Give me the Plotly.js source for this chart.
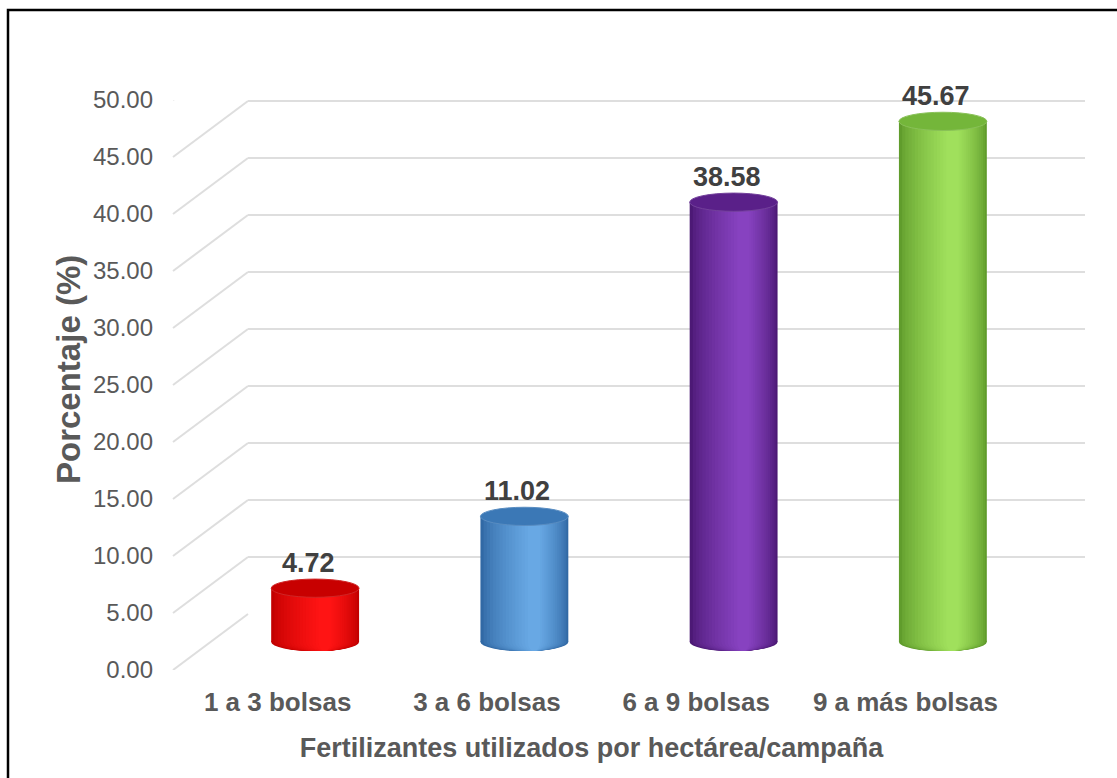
<!DOCTYPE html>
<html>
<head>
<meta charset="utf-8">
<script src="https://cdn.plot.ly/plotly-3.0.1.min.js"></script>
<style>
  html, body { margin: 0; padding: 0; background: #ffffff; }
  #chart { width: 1117px; height: 778px; }
</style>
</head>
<body>
<div id="chart"></div>
<script>
// Fertilizer use per hectare/campaign, percentage of producers
const categories = ['1 a 3 bolsas', '3 a 6 bolsas', '6 a 9 bolsas', '9 a más bolsas'];
const percentages = [4.72, 11.02, 38.58, 45.67];
const yTickValues = [0, 5, 10, 15, 20, 25, 30, 35, 40, 45, 50];
const yTickLabels = ['0.00', '5.00', '10.00', '15.00', '20.00', '25.00', '30.00', '35.00', '40.00', '45.00', '50.00'];
const yTitle = 'Porcentaje (%)';
const xTitle = 'Fertilizantes utilizados por hectárea/campaña';

// Cylinder colours: shaded edge, highlight, top face
const edgeColors  = ['#c20000', '#3169a5', '#4c1975', '#609c2c'];
const lightColors = ['#ff1414', '#68a8e4', '#8742c0', '#a0e05c'];
const topColors   = ['#c80000', '#3b78b6', '#5a2089', '#74b63a'];

const W = 1117, H = 778;
const fx = px => px / W;
const fy = py => 1 - py / H;

const Y_MAX = 50;
const FRONT_ZERO = 670, FRONT_TOP = 100;       // front plane (tick labels)
const DEPTH_X = 75, DEPTH_Y = 56;              // offset of the back wall
const FRONT_LEFT = 173, FRONT_RIGHT = 1010;
const pxPerUnit = (FRONT_ZERO - FRONT_TOP) / Y_MAX;
const depthUnits = DEPTH_Y / pxPerUnit;

const BAR_W = 0.42;        // cylinder width, category units
const CAP_H = 0.8;         // half height of the elliptical caps, value units
const BAR_FLOOR = -2;      // room below zero for the rounded bottoms

function hexToRgb(h) {
  const n = parseInt(h.slice(1), 16);
  return [(n >> 16) & 255, (n >> 8) & 255, n & 255];
}
function mix(a, b, t) {
  const A = hexToRgb(a), B = hexToRgb(b);
  const c = A.map((v, i) => Math.round(v + (B[i] - v) * t));
  return 'rgb(' + c.join(',') + ')';
}

const traces = [];
const shapes = [];

// front axis carries the category and value labels
traces.push({
  x: categories, y: categories.map(() => null), xaxis: 'x', yaxis: 'y',
  type: 'scatter', mode: 'markers', hoverinfo: 'skip', showlegend: false
});
// back wall axis carries the gridlines
traces.push({
  x: [0, 1], y: [null, null], xaxis: 'x2', yaxis: 'y2',
  type: 'scatter', mode: 'markers', hoverinfo: 'skip', showlegend: false
});

// cylinder bodies: nested strips from dark edge to highlight
const N_STRIPS = 16;
for (let k = 0; k < N_STRIPS; k++) {
  const s = k / (N_STRIPS - 1);
  const w = BAR_W * (1 - 0.86 * s);
  const shift = 0.11 * BAR_W * s;
  const cols = categories.map((_, i) => mix(edgeColors[i], lightColors[i], Math.pow(s, 0.7)));
  traces.push({
    type: 'bar', x: categories, y: percentages, base: 0, xaxis: 'x3', yaxis: 'y3',
    width: w, offset: shift - w / 2,
    marker: { color: cols, line: { width: 0 } },
    hoverinfo: 'skip', showlegend: false
  });
  // rounded bottom of each strip
  categories.forEach((_, i) => {
    shapes.push({
      type: 'circle', xref: 'x3', yref: 'y3', layer: 'between',
      x0: i + shift - w / 2, x1: i + shift + w / 2, y0: -CAP_H, y1: CAP_H,
      fillcolor: cols[i], line: { width: 0 }
    });
  });
}

// top faces
percentages.forEach((v, i) => {
  shapes.push({
    type: 'circle', xref: 'x3', yref: 'y3', layer: 'above',
    x0: i - BAR_W / 2, x1: i + BAR_W / 2, y0: v - CAP_H, y1: v + CAP_H,
    fillcolor: topColors[i], line: { width: 1, color: mix(topColors[i], '#ffffff', 0.15) }
  });
});

// receding gridlines on the side wall
yTickValues.forEach(v => {
  shapes.push({
    type: 'line', xref: 'paper', yref: 'y', layer: 'below',
    x0: fx(FRONT_LEFT), y0: v, x1: fx(FRONT_LEFT + DEPTH_X), y1: v + depthUnits,
    line: { color: '#dedede', width: 2 }
  });
});

// outer frame
shapes.push({
  type: 'rect', xref: 'paper', yref: 'paper', layer: 'above',
  x0: fx(8), y0: fy(790), x1: fx(1130), y1: fy(10),
  line: { color: '#000000', width: 2.5 }, fillcolor: 'rgba(0,0,0,0)'
});

const FONT = 'Liberation Sans, Arial, sans-serif';

const annotations = percentages.map((v, i) => ({
  xref: 'x3', yref: 'y3', x: i, y: v,
  text: '<b>' + v.toFixed(2) + '</b>', showarrow: false,
  xanchor: 'center', yanchor: 'bottom', xshift: -7, yshift: 8,
  font: { family: FONT, size: 27, color: '#404040' }
}));

// value axis title
annotations.push({
  xref: 'paper', yref: 'paper', x: fx(69), y: fy(370),
  text: '<b>' + yTitle + '</b>', textangle: -90, showarrow: false,
  xanchor: 'center', yanchor: 'middle',
  font: { family: FONT, size: 33, color: '#595959' }
});

const layout = {
  width: W, height: H,
  margin: { l: 0, r: 0, t: 0, b: 0 },
  paper_bgcolor: '#ffffff', plot_bgcolor: 'rgba(0,0,0,0)',
  barmode: 'overlay',
  showlegend: false,
  font: { family: FONT, color: '#595959' },
  xaxis: {
    domain: [fx(FRONT_LEFT), fx(FRONT_RIGHT)], anchor: 'y',
    type: 'category', range: [-0.5, 3.5],
    showgrid: false, zeroline: false, showline: false, ticks: '',
    ticklabelstandoff: 14,
    tickfont: { size: 26, color: '#595959', weight: 'bold' },
    title: { text: '<b>' + xTitle + '</b>', standoff: 22,
             font: { size: 27, color: '#595959' } },
    fixedrange: true
  },
  yaxis: {
    domain: [fy(FRONT_ZERO), fy(FRONT_TOP)], anchor: 'x',
    range: [0, Y_MAX],
    tickvals: yTickValues, ticktext: yTickLabels,
    showgrid: false, zeroline: false, showline: false, ticks: '',
    ticklabelstandoff: 19,
    tickfont: { size: 24, color: '#595959' },
    fixedrange: true
  },
  xaxis2: {
    domain: [fx(FRONT_LEFT + DEPTH_X), fx(FRONT_RIGHT + DEPTH_X)], anchor: 'y2',
    range: [0, 1], visible: false, fixedrange: true
  },
  yaxis2: {
    domain: [fy(FRONT_ZERO - DEPTH_Y), fy(FRONT_TOP - DEPTH_Y)], anchor: 'x2',
    range: [0, Y_MAX], dtick: 5,
    showgrid: true, gridcolor: '#dedede', gridwidth: 2,
    zeroline: false, showline: false, showticklabels: false, ticks: '',
    fixedrange: true
  },
  xaxis3: {
    domain: [fx(FRONT_LEFT + DEPTH_X / 2), fx(FRONT_RIGHT + DEPTH_X / 2)], anchor: 'y3',
    type: 'category', range: [-0.5, 3.5],
    showgrid: false, zeroline: false, showline: false, showticklabels: false, ticks: '',
    fixedrange: true
  },
  yaxis3: {
    domain: [fy(FRONT_ZERO - DEPTH_Y / 2 - BAR_FLOOR * pxPerUnit), fy(FRONT_TOP - DEPTH_Y / 2)],
    anchor: 'x3',
    range: [BAR_FLOOR, Y_MAX],
    showgrid: false, zeroline: false, showline: false, showticklabels: false, ticks: '',
    fixedrange: true
  },
  shapes: shapes,
  annotations: annotations
};

Plotly.newPlot('chart', traces, layout, { displayModeBar: false, staticPlot: true });
</script>
</body>
</html>
